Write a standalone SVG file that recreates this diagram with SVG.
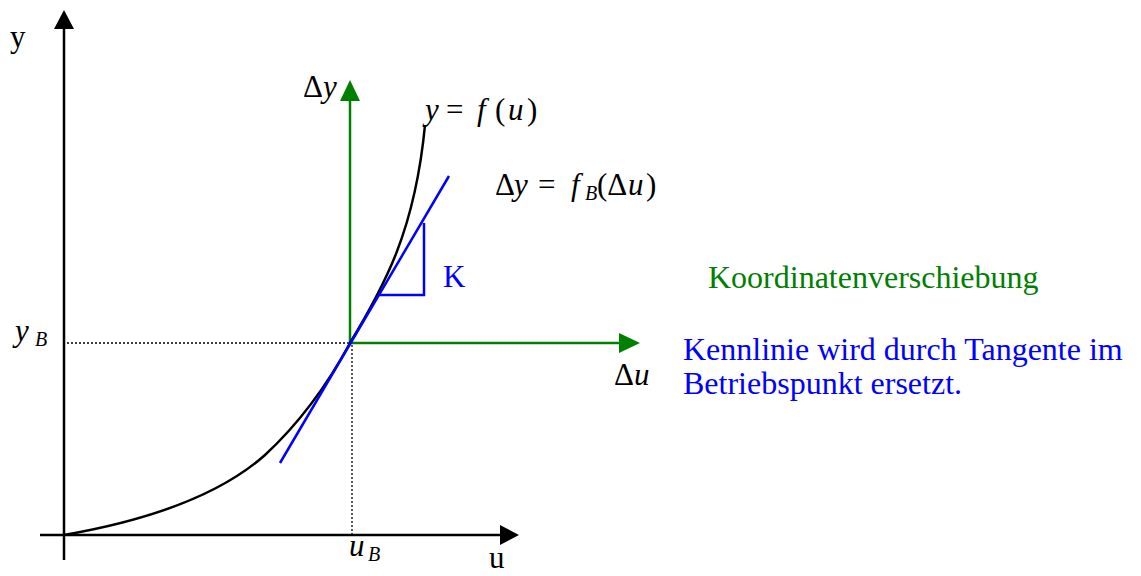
<svg xmlns="http://www.w3.org/2000/svg" width="1141" height="576" viewBox="0 0 1141 576">
<style>
text{font-family:"Liberation Serif","Times New Roman",serif;font-size:31px}
.big{font-size:32px}
.it{font-style:italic}
.sub{font-size:20px;font-style:italic}
.ax{stroke:#000;stroke-width:2.5;fill:none}
.gr{stroke:#008000;stroke-width:2.5;fill:none}
.bl{stroke:#0000ff;stroke-width:2.5;fill:none}
.dot{stroke:#000;stroke-width:1.3;stroke-dasharray:2 2;fill:none}
</style>
<rect width="1141" height="576" fill="#fff"/>
<g id="connectors">
<line class="ax" x1="64" y1="560" x2="64" y2="26"/>
<polygon points="64,10 54,29 74,29" fill="#000"/>
<line class="ax" x1="40" y1="535" x2="502" y2="535"/>
<polygon points="519,535 500,525 500,545" fill="#000"/>
<line class="dot" x1="67" y1="343" x2="350" y2="343"/>
<line class="dot" x1="352" y1="345" x2="352" y2="535"/>
<line class="gr" x1="350" y1="343" x2="350" y2="98"/>
<polygon points="350,80 340,101 360,101" fill="#008000"/>
<line class="gr" x1="350" y1="343" x2="622" y2="343"/>
<polygon points="640,343 619,333 619,353" fill="#008000"/>
<path class="ax" d="M64,535 C150,520 220,495 265,455 C305,418 330,380 350,343 C385,285 415,230 425,125"/>
<line class="bl" x1="280" y1="463" x2="449" y2="176"/>
<polyline class="bl" points="378,295 424,295 424,223"/>
</g>
<g id="labels">
<text x="10" y="47">y</text>
<text x="489" y="568">u</text>
<text x="15" y="341" class="it">y<tspan class="sub" x="35" dy="5">B</tspan></text>
<text x="349" y="556" class="it">u<tspan class="sub" x="368" dy="5">B</tspan></text>
<text x="303" y="97">Δ<tspan class="it">y</tspan></text>
<text x="614" y="385">Δ<tspan class="it">u</tspan></text>
<text y="120"><tspan class="it" x="425">y</tspan><tspan x="446">=</tspan><tspan class="it" x="477">f</tspan><tspan x="495">(</tspan><tspan class="it" x="508">u</tspan><tspan x="527">)</tspan></text>
<text y="195"><tspan x="495">Δ</tspan><tspan class="it" x="514">y</tspan><tspan x="538">=</tspan><tspan class="it" x="571">f</tspan><tspan class="sub" x="585" dy="5">B</tspan><tspan x="597" dy="-5">(Δ</tspan><tspan class="it" x="628">u</tspan><tspan x="646">)</tspan></text>
<text x="443" y="287" fill="#0000ff">K</text>
<text x="708" y="288" class="big" fill="#008000">Koordinatenverschiebung</text>
<text x="683" y="360" class="big" fill="#0000ff">Kennlinie wird durch Tangente im</text>
<text x="683" y="394" class="big" fill="#0000ff">Betriebspunkt ersetzt.</text>
</g>
</svg>
